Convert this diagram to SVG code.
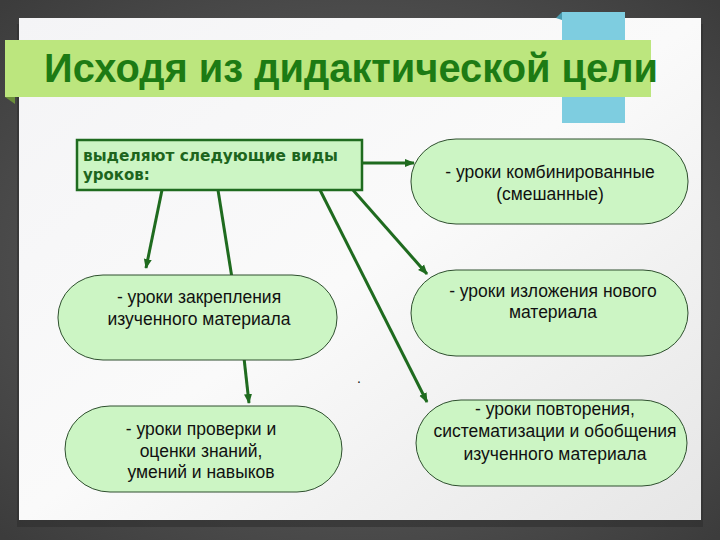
<svg xmlns="http://www.w3.org/2000/svg" width="720" height="540" viewBox="0 0 720 540">
<defs>
<radialGradient id="bg" cx="50%" cy="50%" r="70%">
<stop offset="0" stop-color="#6a6a6a"/>
<stop offset="1" stop-color="#3c3c3c"/>
</radialGradient>
<linearGradient id="paper" x1="0" y1="0" x2="1" y2="1">
<stop offset="0" stop-color="#f4f4f6"/>
<stop offset="0.5" stop-color="#fafafa"/>
<stop offset="1" stop-color="#e6e6e6"/>
</linearGradient>
<marker id="ah" markerUnits="userSpaceOnUse" markerWidth="10" markerHeight="10" viewBox="0 0 10 10" refX="9" refY="5" orient="auto">
<path d="M0,1 L10,5 L0,9 Z" fill="#1f6b1f"/>
</marker>
<style>
.node{fill:#ccf5c4;stroke:#2e4f2e;stroke-width:1}
.t{font-family:"Liberation Sans",Arial,sans-serif;font-size:17.5px;fill:#111;text-anchor:middle}
.c{fill:none;stroke:#1f6b1f;stroke-width:3}
.b{font-family:"DejaVu Sans","Liberation Sans",sans-serif;font-weight:bold;font-size:15px;fill:#1d651d}
</style>
</defs>
<rect width="720" height="540" fill="url(#bg)"/>
<rect x="17" y="24" width="686" height="503" fill="#2e2e2e" opacity="0.6"/>
<rect x="19" y="18" width="682" height="502" fill="url(#paper)"/>
<g id="ribbon">
<path d="M556,18 L562,12 L562,20 Z" fill="#4a9cb0"/>
<rect x="562" y="12" width="63" height="111" fill="#7ecde0"/>
</g>
<g id="banner">
<path d="M5,97 L15,97 L15,104 Z" fill="#6b8f3a"/>
<rect x="5" y="40" width="646" height="57" fill="#bce67e"/>
<text x="44" y="82" font-family="'Liberation Sans',Arial,sans-serif" font-weight="bold" font-size="41" fill="#1d7b14" textLength="614" lengthAdjust="spacingAndGlyphs">Исходя из дидактической цели</text>
</g>
<g id="connectors">
<line class="c" x1="362" y1="163" x2="414" y2="163" marker-end="url(#ah)"/>
<line class="c" x1="162" y1="190" x2="146" y2="268" marker-end="url(#ah)"/>
<line class="c" x1="218" y1="190" x2="232" y2="278"/>
<line class="c" x1="320" y1="190" x2="427" y2="402" marker-end="url(#ah)"/>
<line class="c" x1="353" y1="190" x2="427" y2="274" marker-end="url(#ah)"/>
<line class="c" x1="244" y1="358" x2="249" y2="403" marker-end="url(#ah)"/>
</g>
<g id="source">
<rect x="77" y="140" width="285" height="50" fill="#ccf5c4" stroke="#1f6b1f" stroke-width="2.5"/>
<text class="b" x="83" y="161" textLength="255" lengthAdjust="spacingAndGlyphs">выделяют следующие виды</text>
<text class="b" x="83" y="180">уроков:</text>
</g>
<g id="n1">
<rect class="node" x="411" y="139" width="277" height="85" rx="45" ry="42"/>
<text class="t" x="550" y="178">- уроки комбинированные</text>
<text class="t" x="550" y="200">(смешанные)</text>
</g>
<g id="n2">
<rect class="node" x="411" y="270" width="277" height="86" rx="45" ry="43"/>
<text class="t" x="553" y="297">- уроки изложения нового</text>
<text class="t" x="553" y="318">материала</text>
</g>
<g id="n3">
<rect class="node" x="58" y="275" width="279" height="85" rx="45" ry="42"/>
<text class="t" x="199" y="303">- уроки закрепления</text>
<text class="t" x="199" y="325">изученного материала</text>
</g>
<g id="n4">
<rect class="node" x="65" y="406" width="277" height="86" rx="45" ry="43"/>
<text class="t" x="201" y="435">- уроки проверки и</text>
<text class="t" x="201" y="457">оценки знаний,</text>
<text class="t" x="201" y="478">умений и навыков</text>
</g>
<g id="n5">
<rect class="node" x="416" y="400" width="271" height="86" rx="45" ry="43"/>
<text class="t" x="555" y="415">- уроки повторения,</text>
<text class="t" x="555" y="437">систематизации и обобщения</text>
<text class="t" x="555" y="460">изученного материала</text>
</g>
<text x="357" y="383" font-family="'Liberation Sans',Arial,sans-serif" font-size="14" fill="#111">.</text>
</svg>
